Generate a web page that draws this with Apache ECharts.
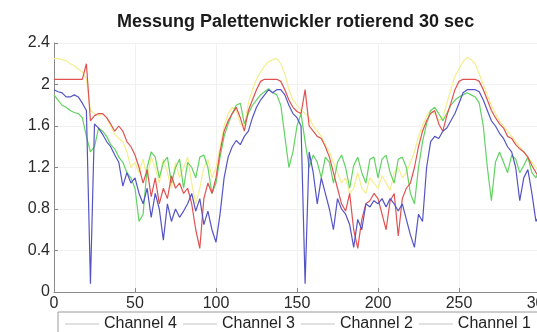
<!DOCTYPE html>
<html>
<head>
<meta charset="utf-8">
<script src="https://cdn.jsdelivr.net/npm/echarts@6/dist/echarts.min.js"></script>
<style>
  html, body { margin: 0; padding: 0; background: #fff; }
  #chart { width: 537px; height: 332px; }
</style>
</head>
<body>
<div id="chart"></div>
<script>
// sample positions (x axis, 0..300)
var xValues = [
  0, 2.5, 5, 7.5, 10, 12.5, 15, 17.5, 20, 22.5,
  25, 27.5, 30, 32.5, 35, 37.5, 40, 42.5, 45, 47.5,
  50, 52.5, 55, 57.5, 60, 62.5, 65, 67.5, 70, 72.5,
  75, 77.5, 80, 82.5, 85, 87.5, 90, 92.5, 95, 97.5,
  100, 102.5, 105, 107.5, 110, 112.5, 115, 117.5, 120, 122.5,
  125, 127.5, 130, 132.5, 135, 137.5, 140, 142.5, 145, 147.5,
  150, 152.5, 155, 157.5, 160, 162.5, 165, 167.5, 170, 172.5,
  175, 177.5, 180, 182.5, 185, 187.5, 190, 192.5, 195, 197.5,
  200, 202.5, 205, 207.5, 210, 212.5, 215, 217.5, 220, 222.5,
  225, 227.5, 230, 232.5, 235, 237.5, 240, 242.5, 245, 247.5,
  250, 252.5, 255, 257.5, 260, 262.5, 265, 267.5, 270, 272.5,
  275, 277.5, 280, 282.5, 285, 287.5, 290, 292.5, 295, 297.5,
  300
];

var channel4 = [ // yellow
  2.25, 2.25, 2.24, 2.23, 2.2, 2.18, 2.15, 2.12, 2.05, 1.75,
  1.72, 1.7, 1.72, 1.68, 1.6, 1.52, 1.48, 1.45, 1.35, 1.2,
  1.25, 1.15, 1.28, 1.1, 1.3, 1.2, 1.05, 1.28, 1.15, 1.0,
  1.25, 1.1, 1.2, 1.3, 1.05, 0.85, 1.0, 1.2, 1.28, 1.1,
  1.2, 1.4, 1.6, 1.72, 1.78, 1.75, 1.62, 1.6, 1.82, 1.95,
  2.05, 2.12, 2.18, 2.22, 2.24, 2.25, 2.2, 2.1, 1.95, 1.85,
  1.8, 1.75, 1.72, 1.68, 1.6, 1.55, 1.5, 1.42, 1.35, 1.25,
  1.15, 1.05, 1.1, 0.95, 1.0, 1.15, 1.0, 0.95, 1.1, 1.05,
  1.0, 1.12, 1.05, 0.98, 1.15, 1.2, 1.1, 1.15, 1.25, 1.35,
  1.5, 1.6, 1.7, 1.75, 1.72, 1.65, 1.68, 1.82, 1.95, 2.08,
  2.15, 2.22, 2.26, 2.24, 2.2, 2.1, 2.0, 1.9, 1.8, 1.72,
  1.65, 1.6, 1.55, 1.5, 1.45, 1.4, 1.35, 1.3, 1.25, 1.2,
  1.15
];

var channel3 = [ // green
  1.9, 1.85, 1.8, 1.78, 1.75, 1.73, 1.72, 1.68, 1.5, 1.35,
  1.4, 1.58, 1.55, 1.5, 1.42, 1.38, 1.3, 1.25, 1.15, 1.1,
  1.0, 0.68, 0.75, 1.2, 1.35, 1.3, 1.1, 1.25, 1.3, 1.05,
  1.2, 1.28, 1.0, 1.25, 1.2, 1.1, 1.3, 1.32, 1.2, 0.95,
  1.05, 1.3, 1.5, 1.62, 1.72, 1.8, 1.82, 1.62, 1.72, 1.8,
  1.85, 1.9, 1.93, 1.96, 1.92, 1.9, 1.8, 1.5, 1.2, 1.35,
  1.6, 1.72, 1.45, 1.2, 1.32, 1.25, 1.1, 1.3, 1.25, 1.05,
  1.25, 1.32, 1.2, 1.0, 1.22, 1.3, 1.15, 1.05, 1.28, 1.3,
  1.1, 1.28, 1.32, 1.15, 1.05, 1.28, 1.3, 1.2, 0.95, 0.85,
  1.2, 1.45, 1.62, 1.75, 1.78, 1.72, 1.65, 1.72, 1.8, 1.85,
  1.88, 1.9, 1.92, 1.9, 1.88, 1.82, 1.6, 1.2, 0.88, 1.25,
  1.35, 1.25, 1.15, 1.32, 1.28, 1.15, 1.22, 1.3, 1.15, 1.1,
  1.2
];

var channel2 = [ // red
  2.05, 2.05, 2.05, 2.05, 2.05, 2.05, 2.05, 2.05, 2.2, 1.65,
  1.7, 1.72, 1.72, 1.68, 1.62, 1.55, 1.6, 1.55, 1.45, 1.4,
  1.32, 1.2, 1.05, 1.18, 0.92, 1.1, 0.85, 1.0, 0.9, 1.12,
  1.0, 1.05, 0.95, 1.0, 0.85, 0.6, 0.42, 0.9, 1.05, 0.95,
  1.1, 1.35, 1.55, 1.65, 1.72, 1.78, 1.68, 1.55, 1.75, 1.85,
  1.95, 2.03, 2.05, 2.05, 2.05, 2.05, 2.03, 1.95, 1.85, 1.78,
  1.74, 1.72, 1.95, 1.6, 1.55, 1.5, 1.48, 1.4, 1.3, 1.15,
  1.0, 0.85, 0.78, 0.95, 0.6, 0.42, 0.7, 0.85, 0.88, 0.95,
  0.9, 0.75, 0.6, 0.88, 0.95, 0.54, 0.9, 1.0, 1.05, 1.2,
  1.4, 1.55, 1.65, 1.72, 1.75, 1.62, 1.55, 1.7, 1.82, 1.95,
  2.03, 2.05, 2.05, 2.05, 2.05, 2.03, 1.95, 1.85, 1.75, 1.68,
  1.62, 1.58, 1.5, 1.48, 1.42, 1.38, 1.35, 1.3, 1.22, 1.15,
  1.1
];

var channel1 = [ // blue
  1.95, 1.93, 1.92, 1.88, 1.88, 1.9, 1.88, 1.82, 1.75, 0.08,
  1.62, 1.58, 1.52, 1.45, 1.4, 1.32, 1.25, 1.02, 1.15, 1.05,
  1.1, 0.95, 0.85, 1.0, 0.72, 0.95, 0.8, 0.5, 0.85, 0.68,
  0.8, 0.72, 0.78, 0.85, 0.95, 0.78, 0.9, 0.65, 0.78, 0.6,
  0.48, 0.75, 1.1, 1.3, 1.4, 1.46, 1.42, 1.5, 1.55, 1.68,
  1.78, 1.85, 1.9, 1.95, 1.92, 1.95, 1.95, 1.9, 1.8, 1.72,
  1.68, 1.6, 0.08, 1.35, 1.15, 0.85, 1.1, 0.95, 0.8, 0.6,
  0.9, 0.8, 0.75, 0.65, 0.43, 0.7, 0.6, 0.85, 0.82, 0.88,
  0.85, 0.9, 0.82, 0.9, 0.85, 0.78, 0.85, 0.7, 0.55, 0.43,
  0.75, 0.68, 1.2, 1.45, 1.5, 1.48, 1.55, 1.58, 1.65, 1.72,
  1.82, 1.92, 1.95, 1.95, 1.95, 1.93, 1.85, 1.75, 1.65, 1.6,
  1.53, 1.48, 1.4, 1.35, 1.2, 0.88, 1.1, 1.18, 0.95, 0.68,
  0.75
];

var seriesNames = ['Channel 4', 'Channel 3', 'Channel 2', 'Channel 1'];
var seriesValues = [channel4, channel3, channel2, channel1];
var seriesColors = ['#f4ee8c', '#62d262', '#e05252', '#5454c6'];
var yTicks = [0, 0.4, 0.8, 1.2, 1.6, 2, 2.4];

var font = 'Liberation Sans, Arial, sans-serif';
var chart = echarts.init(document.getElementById('chart'), null, { renderer: 'canvas' });

var series = seriesNames.map(function (name, i) {
  return {
    name: name,
    type: 'line',
    showSymbol: false,
    symbol: 'none',
    animation: false,
    lineStyle: { color: seriesColors[i], width: 1.2 },
    itemStyle: { color: seriesColors[i] },
    data: xValues.map(function (x, k) { return [x, seriesValues[i][k]]; })
  };
});

var option = {
  backgroundColor: '#fff',
  animation: false,
  title: {
    text: 'Messung Palettenwickler rotierend 30 sec',
    left: 112,
    top: 8,
    textStyle: { fontFamily: font, fontSize: 18, fontWeight: 'bold', color: '#1a1a1a' }
  },
  legend: {
    data: seriesNames,
    left: 58,
    top: 312,
    width: 500,
    orient: 'horizontal',
    icon: 'rect',
    itemWidth: 34,
    itemHeight: 1,
    itemGap: 6,
    padding: [4, 7, 10, 7],
    borderColor: '#9a9a9a',
    borderWidth: 1,
    itemStyle: { color: '#c4c4c4' },
    textStyle: { fontFamily: font, fontSize: 16, color: '#222' }
  },
  grid: { left: 54, top: 43, width: 486, height: 249, containLabel: false, outerBoundsMode: 'none' },
  xAxis: {
    type: 'value',
    min: 0,
    max: 300,
    interval: 50,
    axisLine: { show: true, lineStyle: { color: '#8a8a8a', width: 1 } },
    axisTick: { show: true, inside: true, length: 4, lineStyle: { color: '#8a8a8a' } },
    axisLabel: { fontFamily: font, fontSize: 16, color: '#2a2a2a', margin: 4 },
    splitLine: { show: true, lineStyle: { color: '#f1f1f1', width: 1 } }
  },
  yAxis: {
    type: 'value',
    min: 0,
    max: 2.4,
    interval: 0.4,
    axisLine: { show: true, lineStyle: { color: '#8a8a8a', width: 1 } },
    axisTick: { show: true, inside: true, length: 4, lineStyle: { color: '#8a8a8a' } },
    axisLabel: {
      fontFamily: font, fontSize: 16, color: '#2a2a2a', margin: 4,
      formatter: function (v) {
        var t = yTicks.find(function (y) { return Math.abs(y - v) < 1e-6; });
        return t === undefined ? '' : String(t);
      }
    },
    splitLine: { show: true, lineStyle: { color: '#f1f1f1', width: 1 } }
  },
  series: series
};

chart.setOption(option);
</script>
</body>
</html>
